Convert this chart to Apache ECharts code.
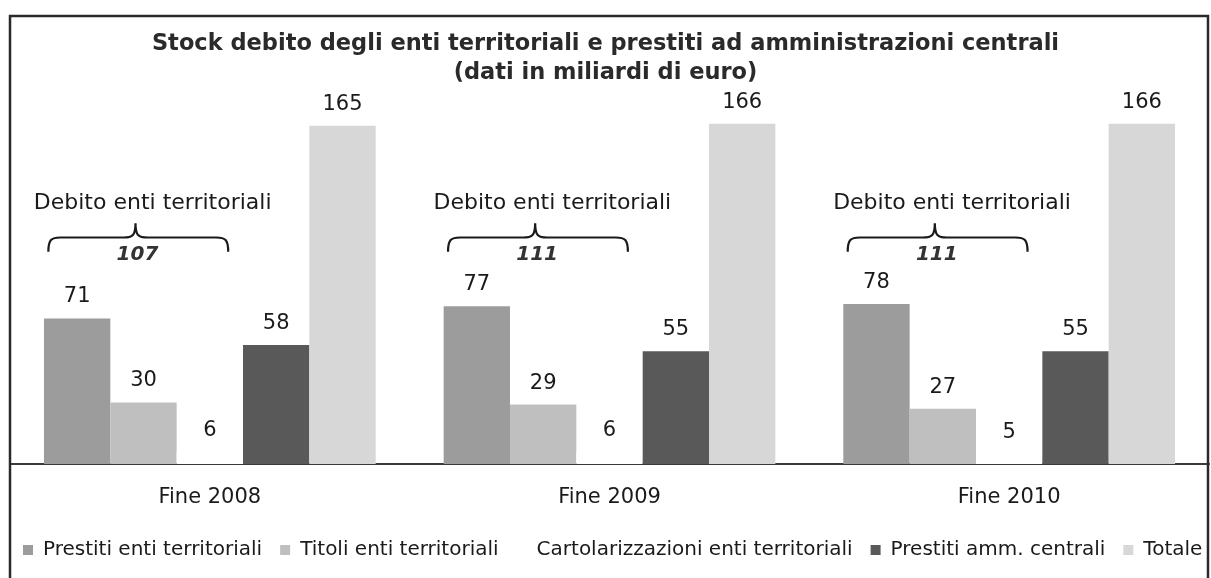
<!DOCTYPE html>
<html>
<head>
<meta charset="utf-8">
<script src="https://cdn.jsdelivr.net/npm/echarts@6/dist/echarts.min.js"></script>
<style>
html,body{margin:0;padding:0;background:#fff;}
#chart{width:1211px;height:578px;}
</style>
</head>
<body>
<div id="chart"></div>
<script>
// ---- data ----
const categories = ['Fine 2008', 'Fine 2009', 'Fine 2010'];
const seriesNames = ['Prestiti enti territoriali', 'Titoli enti territoriali', 'Cartolarizzazioni enti territoriali', 'Prestiti amm. centrali', 'Totale'];
const prestitiEnti = [71, 77, 78];
const titoliEnti = [30, 29, 27];
const cartolarizzazioni = [6, 6, 5];
const prestitiAmmCentrali = [58, 55, 55];
const totale = [165, 166, 166];
const debitoEnti = [107, 111, 111];
const debitoLabel = 'Debito enti territoriali';

const FONT = '"DejaVu Sans", Verdana, sans-serif';
const colors = ['#9c9c9c', '#bfbfbf', '#ffffff', '#595959', '#d7d7d7'];
const seriesData = [prestitiEnti, titoliEnti, cartolarizzazioni, prestitiAmmCentrali, totale];

const chart = echarts.init(document.getElementById('chart'), null, {renderer: 'canvas'});

const barSeries = seriesData.map((d, i) => ({
  name: seriesNames[i],
  type: 'bar',
  data: d,
  barGap: '0%',
  barCategoryGap: '17%',
  itemStyle: {color: colors[i]},
  label: {
    show: true, position: 'top', distance: 11,
    fontFamily: FONT, fontSize: 21, color: '#1a1a1a'
  }
}));

const braceSeries = {
  type: 'custom',
  name: 'debito',
  data: debitoEnti.map((v, i) => [i, v]),
  silent: true,
  z: 10,
  renderItem: function (params, api) {
    const idx = api.value(0);
    const base = api.coord([idx, 0]);
    const cx = base[0], y0 = base[1];
    const band = api.size([1, 0])[0];
    const unit = api.size([0, 1])[1];
    const x0 = cx - 0.404 * band;
    const x1 = cx + 0.046 * band;
    const tip = cx - 0.186 * band;
    const yTip = y0 - 117.5 * unit;
    const yMid = y0 - 110.5 * unit;
    const yEnd = y0 - 103.5 * unit;
    const r = 12;
    const path =
      'M' + x0 + ' ' + yEnd +
      ' C' + x0 + ' ' + (yMid + 2) + ' ' + (x0 + 3) + ' ' + yMid + ' ' + (x0 + r) + ' ' + yMid +
      ' L' + (tip - r) + ' ' + yMid +
      ' C' + (tip - 3) + ' ' + yMid + ' ' + tip + ' ' + (yMid - 2) + ' ' + tip + ' ' + yTip +
      ' C' + tip + ' ' + (yMid - 2) + ' ' + (tip + 3) + ' ' + yMid + ' ' + (tip + r) + ' ' + yMid +
      ' L' + (x1 - r) + ' ' + yMid +
      ' C' + (x1 - 3) + ' ' + yMid + ' ' + x1 + ' ' + (yMid + 2) + ' ' + x1 + ' ' + yEnd;
    return {
      type: 'group',
      children: [
        {
          type: 'path',
          shape: {pathData: path},
          style: {fill: null, stroke: '#1a1a1a', lineWidth: 2.2}
        },
        {
          type: 'text',
          style: {
            text: debitoLabel, x: cx - 0.143 * band, y: y0 - 127 * unit,
            align: 'center', verticalAlign: 'middle',
            fontFamily: FONT, fontSize: 22, fill: '#1a1a1a'
          }
        },
        {
          type: 'text',
          style: {
            text: String(api.value(1)), x: cx - 0.181 * band, y: y0 - 102 * unit,
            align: 'center', verticalAlign: 'middle',
            fontFamily: FONT, fontSize: 20, fontWeight: 'bold', fontStyle: 'italic', fill: '#333'
          }
        }
      ]
    };
  }
};

const option = {
  animation: false,
  backgroundColor: '#ffffff',
  title: {
    text: 'Stock debito degli enti territoriali e prestiti ad amministrazioni centrali\n(dati in miliardi di euro)',
    left: 'center', top: 30, padding: 0,
    textStyle: {fontFamily: FONT, fontSize: 22.5, fontWeight: 'bold', color: '#2a2a2a', lineHeight: 29, align: 'center'}
  },
  legend: {
    data: seriesNames,
    left: 23, top: 540, padding: 0,
    itemWidth: 10, itemHeight: 10, itemGap: 18,
    icon: 'rect',
    textStyle: {fontFamily: FONT, fontSize: 20, color: '#1a1a1a', padding: [0, 0, 0, 5]}
  },
  grid: {left: 10, right: 2, top: 95, bottom: 114, containLabel: false},
  xAxis: {
    type: 'category', data: categories,
    axisLine: {show: true, lineStyle: {color: '#3a3a3a', width: 2}},
    axisTick: {show: false},
    axisLabel: {fontFamily: FONT, fontSize: 21, color: '#1a1a1a', margin: 23}
  },
  yAxis: {type: 'value', min: 0, max: 180, show: false, splitLine: {show: false}},
  series: [...barSeries, braceSeries],
  graphic: [{
    type: 'rect',
    shape: {x: 10, y: 16, width: 1198, height: 580},
    style: {fill: null, stroke: '#2a2a2a', lineWidth: 2.5},
    silent: true, z: 100
  }]
};
chart.setOption(option);
</script>
</body>
</html>
